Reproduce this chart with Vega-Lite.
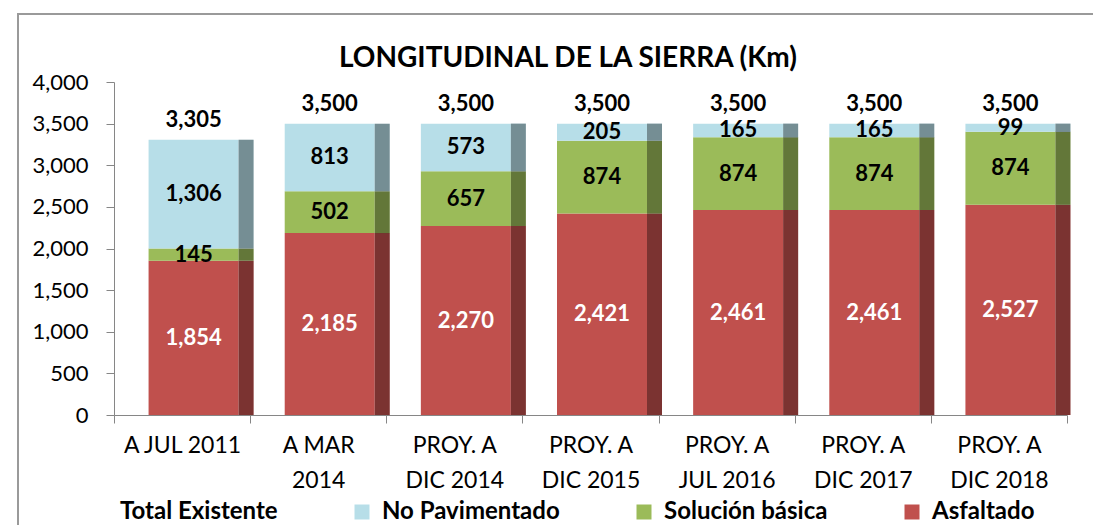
{
  "$schema": "https://vega.github.io/schema/vega-lite/v6.json",
  "width": 1100,
  "height": 520,
  "autosize": {"type": "none"},
  "padding": {"left": 18, "top": 14, "right": 0, "bottom": 0},
  "background": "white",
  "config": {
    "font": "Lato",
    "view": {"stroke": "#9A9A9A", "strokeWidth": 2},
    "axis": {"grid": false, "domainColor": "#868686", "tickColor": "#868686", "labelColor": "#000000", "labelFont": "Lato", "labelFontSize": 22, "tickSize": 8, "title": null}
  },
  "title": {"text": "LONGITUDINAL DE LA SIERRA (Km)", "font": "Lato", "fontSize": 28, "fontWeight": "bold", "color": "#000000", "anchor": "middle", "frame": "group", "offset": -73, "baseline": "middle"},
  "data": {"values": [
    {"periodo": "A JUL 2011", "serie": "Asfaltado", "orden": 1, "km": 1854},
    {"periodo": "A JUL 2011", "serie": "Solución básica", "orden": 2, "km": 145},
    {"periodo": "A JUL 2011", "serie": "No Pavimentado", "orden": 3, "km": 1306},
    {"periodo": "A MAR\n2014", "serie": "Asfaltado", "orden": 1, "km": 2185},
    {"periodo": "A MAR\n2014", "serie": "Solución básica", "orden": 2, "km": 502},
    {"periodo": "A MAR\n2014", "serie": "No Pavimentado", "orden": 3, "km": 813},
    {"periodo": "PROY. A\nDIC 2014", "serie": "Asfaltado", "orden": 1, "km": 2270},
    {"periodo": "PROY. A\nDIC 2014", "serie": "Solución básica", "orden": 2, "km": 657},
    {"periodo": "PROY. A\nDIC 2014", "serie": "No Pavimentado", "orden": 3, "km": 573},
    {"periodo": "PROY. A\nDIC 2015", "serie": "Asfaltado", "orden": 1, "km": 2421},
    {"periodo": "PROY. A\nDIC 2015", "serie": "Solución básica", "orden": 2, "km": 874},
    {"periodo": "PROY. A\nDIC 2015", "serie": "No Pavimentado", "orden": 3, "km": 205},
    {"periodo": "PROY. A\nJUL 2016", "serie": "Asfaltado", "orden": 1, "km": 2461},
    {"periodo": "PROY. A\nJUL 2016", "serie": "Solución básica", "orden": 2, "km": 874},
    {"periodo": "PROY. A\nJUL 2016", "serie": "No Pavimentado", "orden": 3, "km": 165},
    {"periodo": "PROY. A\nDIC 2017", "serie": "Asfaltado", "orden": 1, "km": 2461},
    {"periodo": "PROY. A\nDIC 2017", "serie": "Solución básica", "orden": 2, "km": 874},
    {"periodo": "PROY. A\nDIC 2017", "serie": "No Pavimentado", "orden": 3, "km": 165},
    {"periodo": "PROY. A\nDIC 2018", "serie": "Asfaltado", "orden": 1, "km": 2527},
    {"periodo": "PROY. A\nDIC 2018", "serie": "Solución básica", "orden": 2, "km": 874},
    {"periodo": "PROY. A\nDIC 2018", "serie": "No Pavimentado", "orden": 3, "km": 99}
  ]},
  "encoding": {
    "x": {
      "field": "periodo", "type": "nominal",
      "sort": ["A JUL 2011", "A MAR\n2014", "PROY. A\nDIC 2014", "PROY. A\nDIC 2015", "PROY. A\nJUL 2016", "PROY. A\nDIC 2017", "PROY. A\nDIC 2018"],
      "scale": {"range": [96, 1049], "paddingInner": 0, "paddingOuter": 0},
      "axis": {"orient": "bottom", "offset": -119, "tickBand": "extent", "labelExpr": "split(datum.label, '\\n')", "labelAngle": 0, "labelBaseline": "top", "labelPadding": 11, "labelLineHeight": 35, "labelFontSize": 23, "title": null}
    }
  },
  "layer": [
    {
      "mark": {"type": "bar", "width": 90, "xOffset": 11.5},
      "encoding": {
        "y": {"field": "km", "type": "quantitative", "stack": "zero", "scale": {"domain": [0, 4000], "range": [401, 68], "nice": false, "zero": true},
              "axis": {"offset": -96, "values": [0, 500, 1000, 1500, 2000, 2500, 3000, 3500, 4000], "format": ",d", "labelPadding": 18, "title": null}},
        "color": {
          "field": "serie", "type": "nominal",
          "scale": {"domain": ["Total Existente", "No Pavimentado", "Solución básica", "Asfaltado"], "range": ["rgba(0,0,0,0)", "#B7DEE8", "#9BBB59", "#C0504D"]},
          "legend": {"title": null, "orient": "none", "legendX": 70, "legendY": 486, "direction": "horizontal", "columns": 4, "columnPadding": 72, "symbolType": "square", "symbolSize": 225, "symbolStrokeWidth": 0, "labelFont": "Lato", "labelFontSize": 24, "labelFontWeight": "bold", "labelColor": "#000000", "labelOffset": 8, "padding": 0, "labelLimit": 400}
        },
        "order": {"field": "orden", "type": "quantitative", "sort": "ascending"}
      }
    },
    {
      "mark": {"type": "bar", "width": 15, "xOffset": 64},
      "encoding": {
        "y": {"field": "km", "type": "quantitative", "stack": "zero", "scale": {"domain": [0, 4000], "range": [401, 68], "nice": false}},
        "color": {"field": "serie", "type": "nominal"},
        "order": {"field": "orden", "type": "quantitative", "sort": "ascending"}
      }
    },
    {
      "mark": {"type": "bar", "width": 15, "xOffset": 64, "color": "#000000", "opacity": 0.36},
      "encoding": {
        "y": {"field": "km", "type": "quantitative", "stack": "zero", "scale": {"domain": [0, 4000], "range": [401, 68], "nice": false}},
        "detail": {"field": "serie", "type": "nominal"},
        "order": {"field": "orden", "type": "quantitative", "sort": "ascending"}
      }
    },
    {
      "transform": [
        {"stack": "km", "groupby": ["periodo"], "sort": [{"field": "orden", "order": "ascending"}], "as": ["y0", "y1"]},
        {"calculate": "(datum.y0 + datum.y1) / 2", "as": "ymid"}
      ],
      "mark": {"type": "text", "xOffset": 11.5, "fontWeight": "bold", "fontSize": 22, "font": "Lato", "baseline": "middle"},
      "encoding": {
        "y": {"field": "ymid", "type": "quantitative", "scale": {"domain": [0, 4000], "range": [401, 68], "nice": false}},
        "text": {"field": "km", "type": "quantitative", "format": ",d"},
        "color": {"condition": {"test": "datum.serie === 'Asfaltado'", "value": "#FFFFFF"}, "value": "#000000"}
      }
    },
    {
      "transform": [
        {"aggregate": [{"op": "sum", "field": "km", "as": "total"}], "groupby": ["periodo"]}
      ],
      "mark": {"type": "text", "xOffset": 11.5, "dy": -20, "fontWeight": "bold", "fontSize": 22, "font": "Lato", "baseline": "middle", "color": "#000000"},
      "encoding": {
        "y": {"field": "total", "type": "quantitative", "scale": {"domain": [0, 4000], "range": [401, 68], "nice": false}},
        "text": {"field": "total", "type": "quantitative", "format": ",d"}
      }
    }
  ]
}
